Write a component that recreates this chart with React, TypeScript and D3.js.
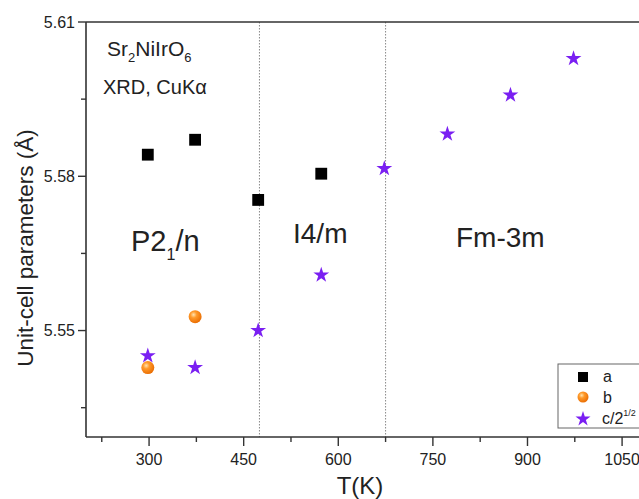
import React from "react";
import * as d3 from "d3";

// Lattice parameters of Sr2NiIrO6 versus temperature
const tempsA = [298, 373, 473, 573];
const valuesA = [5.5842, 5.5871, 5.5754, 5.5805];

const tempsB = [298, 373];
const valuesB = [5.5428, 5.5527];

const tempsC = [298, 373, 473, 573, 673, 773, 873, 973];
const valuesC = [5.5451, 5.5428, 5.55, 5.5608, 5.5815, 5.5882, 5.5958, 5.6029];

const xTicks = [300, 450, 600, 750, 900, 1050];
const xMinorTicks = [225, 375, 525, 675, 825, 975];
const yTicks = [5.55, 5.58, 5.61];
const yMinorTicks = [5.535, 5.565, 5.595];
const phaseBoundaries = [475, 675];

const W = 639;
const H = 499;
const left = 86;
const top = 22;
const bottom = 437;
const font = "'Liberation Sans', Arial, sans-serif";
const axisColor = "#333";
const textColor = "#222";
const starColor = "#7a1ff2";

export default function App() {
  const x = d3.scaleLinear().domain([200, 1100]).range([left, left + 900 * 0.6307]);
  const y = d3.scaleLinear().domain([5.5293, 5.61]).range([bottom, top]);

  const squarePath = d3.symbol(d3.symbolSquare, 140)() as string;
  const starPath = d3.symbol(d3.symbolStar, 78)() as string;
  const legendStar = d3.symbol(d3.symbolStar, 70)() as string;
  const legendSquare = d3.symbol(d3.symbolSquare, 100)() as string;

  return (
    <svg
      width={W}
      height={H}
      style={{ position: "absolute", left: 0, top: 0, background: "#fff" }}
      fontFamily={font}
    >
      <defs>
        <radialGradient id="ball" cx="0.38" cy="0.35" r="0.7">
          <stop offset="0" stopColor="#ffe3b0" />
          <stop offset="0.35" stopColor="#ff9a2a" />
          <stop offset="1" stopColor="#e86a00" />
        </radialGradient>
        <clipPath id="plotClip">
          <rect x={left} y={0} width={W - left} height={bottom} />
        </clipPath>
      </defs>

      {/* phase boundaries */}
      {phaseBoundaries.map((t) => (
        <line
          key={t}
          x1={x(t)}
          x2={x(t)}
          y1={top}
          y2={bottom}
          stroke="#888"
          strokeWidth={1}
          strokeDasharray="1.5,1.5"
        />
      ))}

      {/* frame */}
      <line x1={left} x2={W} y1={top} y2={top} stroke={axisColor} strokeWidth={1.6} />
      <line x1={left} x2={left} y1={top} y2={bottom} stroke={axisColor} strokeWidth={1.6} />
      <line x1={left} x2={W} y1={bottom} y2={bottom} stroke={axisColor} strokeWidth={1.6} />

      {/* y axis ticks */}
      {yTicks.map((v) => (
        <g key={v}>
          <line x1={left - 8} x2={left} y1={y(v)} y2={y(v)} stroke={axisColor} strokeWidth={1.4} />
          <text x={left - 11} y={y(v)} dy="0.35em" textAnchor="end" fontSize={16} fill={textColor}>
            {v.toFixed(2)}
          </text>
        </g>
      ))}
      {yMinorTicks.map((v) => (
        <line key={v} x1={left - 5} x2={left} y1={y(v)} y2={y(v)} stroke={axisColor} strokeWidth={1.4} />
      ))}

      {/* x axis ticks */}
      {xTicks.map((v) => (
        <g key={v}>
          <line x1={x(v)} x2={x(v)} y1={bottom} y2={bottom + 9} stroke={axisColor} strokeWidth={1.4} />
          <text x={x(v)} y={bottom + 28} textAnchor="middle" fontSize={16} fill={textColor}>
            {v}
          </text>
        </g>
      ))}
      {xMinorTicks.map((v) => (
        <line key={v} x1={x(v)} x2={x(v)} y1={bottom} y2={bottom + 5} stroke={axisColor} strokeWidth={1.4} />
      ))}

      {/* axis titles */}
      <text x={360} y={494} textAnchor="middle" fontSize={24} fill={textColor}>
        T(K)
      </text>
      <text
        transform={`translate(33,248) rotate(-90)`}
        textAnchor="middle"
        fontSize={22.5}
        fill={textColor}
      >
        Unit-cell parameters (Å)
      </text>

      {/* annotations */}
      <text x={107} y={56} fontSize={21} fill={textColor}>
        Sr<tspan fontSize={13} dy={6}>2</tspan>
        <tspan dy={-6}>NiIrO</tspan>
        <tspan fontSize={13} dy={6}>6</tspan>
      </text>
      <text x={103} y={94} fontSize={20} fill={textColor}>
        XRD, CuKα
      </text>
      <text x={131} y={251} fontSize={29} fill={textColor}>
        P2<tspan fontSize={16} dy={9}>1</tspan>
        <tspan dy={-9}>/n</tspan>
      </text>
      <text x={293} y={243} fontSize={28} fill={textColor}>
        I4/m
      </text>
      <text x={456} y={247} fontSize={28} fill={textColor}>
        Fm-3m
      </text>

      <g clipPath="url(#plotClip)">
        {tempsA.map((t, i) => (
          <path key={`a${t}`} d={squarePath} transform={`translate(${x(t)},${y(valuesA[i])})`} fill="#000" />
        ))}
        {tempsB.map((t, i) => (
          <circle key={`b${t}`} cx={x(t)} cy={y(valuesB[i])} r={6.5} fill="url(#ball)" />
        ))}
        {tempsC.map((t, i) => (
          <path key={`c${t}`} d={starPath} transform={`translate(${x(t)},${y(valuesC[i])})`} fill={starColor} />
        ))}
      </g>

      {/* legend */}
      <rect x={558} y={364} width={90} height={64} fill="#fff" stroke="#666" strokeWidth={1} />
      <path d={legendSquare} transform="translate(583,377)" fill="#000" />
      <text x={603} y={382} fontSize={16} fill={textColor}>a</text>
      <circle cx={583} cy={397} r={5.5} fill="url(#ball)" />
      <text x={603} y={403} fontSize={16} fill={textColor}>b</text>
      <path d={legendStar} transform="translate(583,419)" fill={starColor} />
      <text x={602} y={424} fontSize={16} fill={textColor}>
        c/2<tspan fontSize={9} dy={-8}>1/2</tspan>
      </text>
    </svg>
  );
}
